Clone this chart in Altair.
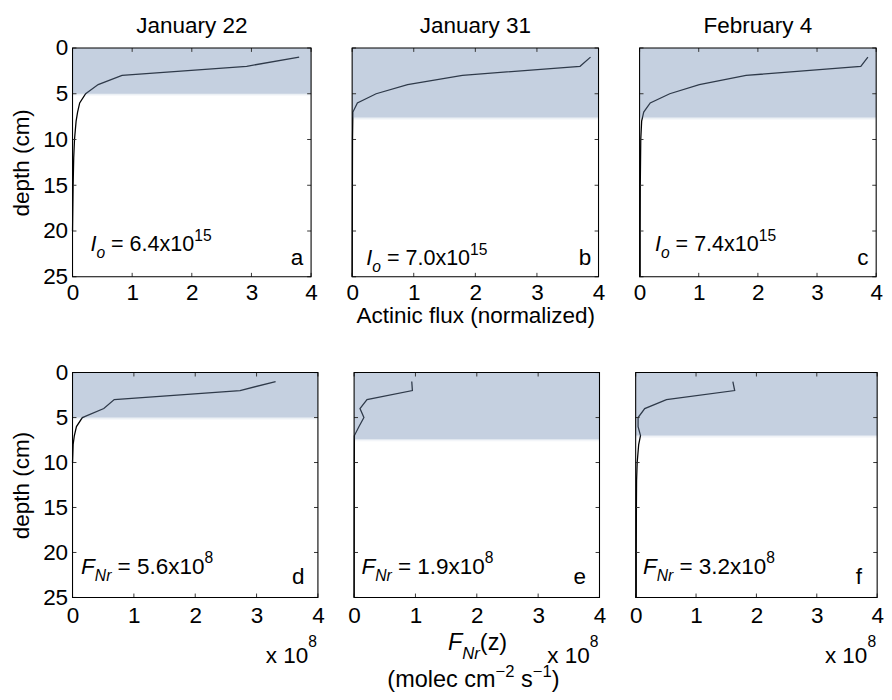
import altair as alt
import pandas as pd

FONT = "Liberation Sans"

# ---------------- data ----------------
DATES = ["January 22", "January 31", "February 4"]
LETTERS = ["a", "b", "c", "d", "e", "f"]
IO_VALUES = ["6.4", "7.0", "7.4"]
FNR_VALUES = ["5.6", "1.9", "3.2"]
IO_EXP = "15"
FNR_EXP = "8"

A_DEPTH = [1, 2, 3, 4, 5, 6, 7, 8, 10, 12, 15, 20]
A_FLUX = [3.80, 2.92, 0.83, 0.43, 0.22, 0.12, 0.085, 0.06, 0.033, 0.02, 0.01, 0.0]
B_DEPTH = [1, 2, 3, 4, 5, 6, 7, 10, 15, 20, 25]
B_FLUX = [3.87, 3.70, 1.79, 0.90, 0.39, 0.085, 0.012, 0.006, 0.004, 0.002, 0.0]
C_DEPTH = [1, 2, 3, 4, 5, 6, 7, 8, 10, 15, 20, 25]
C_FLUX = [3.86, 3.74, 1.80, 1.01, 0.51, 0.18, 0.07, 0.035, 0.02, 0.012, 0.01, 0.01]
D_DEPTH = [1, 2, 3, 4, 5, 6, 7, 8, 10]
D_FNR = [3.31, 2.73, 0.68, 0.51, 0.16, 0.064, 0.03, 0.01, 0.0]
E_DEPTH = [1, 2, 3, 4, 5, 6, 7, 10, 15, 20, 25]
E_FNR = [0.94, 0.95, 0.21, 0.096, 0.16, 0.08, 0.005, 0.003, 0.002, 0.001, 0.0]
F_DEPTH = [1, 2, 3, 4, 5, 6, 7, 8, 10, 12, 15, 20, 25]
F_FNR = [1.61, 1.64, 0.51, 0.15, 0.04, 0.04, 0.08, 0.05, 0.025, 0.015, 0.012, 0.01, 0.01]
SHADE_DEPTH = [5.0, 7.6, 7.6, 5.0, 7.4, 7.0]

X_TICKS = [0, 1, 2, 3, 4]
Y_TICKS = [0, 5, 10, 15, 20, 25]

# ---------------- layout / style ----------------
WIDTHS = [244, 252, 242, 251, 251, 247]
HEIGHTS = [234, 234, 234, 230, 230, 230]
ANN_POS = [(0.30, 22.2), (0.23, 23.7), (0.26, 22.2), (0.14, 22.4), (0.12, 22.4), (0.12, 22.4)]
LET_POS = [(3.87, 23.7), (3.88, 23.7), (3.87, 23.7), (3.78, 23.5), (3.78, 23.5), (3.75, 23.5)]
FS = 23          # tick labels, axis titles, column titles
FS_ANN_TOP = 22
FS_ANN_BOT = 23
FS_SUB = 16
FS_LOW = 24      # F_Nr(z) and units
SHADE_COLOR = "#738db4"
SHADE_OPACITY = 0.41
TICK_LEN = 4

CW = {' ': 278, '(': 333, ')': 333, '-': 333, '.': 278, '=': 584, 'a': 556, 'b': 556,
      'c': 500, 'd': 556, 'e': 556, 'f': 278, 'i': 222, 'l': 222, 'm': 833, 'n': 556,
      'o': 556, 'r': 333, 's': 500, 't': 278, 'u': 556, 'x': 500, 'z': 500, 'F': 611,
      'N': 722, 'I': 278, '\u2212': 584}


def tw(s, size):
    return sum(CW.get(c, 556) for c in s) / 1000.0 * size


XS = alt.Scale(domain=[X_TICKS[0], X_TICKS[-1]], nice=False, zero=False)
YS = alt.Scale(domain=[Y_TICKS[0], Y_TICKS[-1]], nice=False, zero=False, reverse=True)


def rich_text(segments, base_df, xenc, yenc):
    """segments: list of (text, size, italic, dy); leading spaces become offsets."""
    layers = []
    off = 0.0
    for text, size, italic, dy in segments:
        stripped = text.lstrip(" ")
        off += tw(text[: len(text) - len(stripped)], size)
        kw = dict(text=stripped, fontSize=size, font=FONT, color="black", align="left",
                  baseline="alphabetic", dx=round(off, 2), dy=dy)
        if italic:
            kw["fontStyle"] = "italic"
        layers.append(alt.Chart(base_df).mark_text(**kw).encode(x=xenc, y=yenc))
        off += tw(stripped, size)
    return layers


def panel(i, depth, vals, xaxis_title=None, title=None, lower_extra=False):
    w, h = WIDTHS[i], HEIGHTS[i]
    top = i < 3
    show_y = i in (0, 3)
    df = pd.DataFrame({"v": vals, "d": depth})
    xkw = dict(values=X_TICKS, ticks=False, domain=False, grid=False,
               labelFontSize=FS, labelFont=FONT, labelColor="black",
               labelPadding=5 if top else 8, labelFlush=False)
    if xaxis_title:
        xkw.update(title=xaxis_title, titleFont=FONT, titleFontSize=FS,
                   titleFontWeight="normal", titleColor="black", titlePadding=1)
    else:
        xkw.update(title=None)
    xaxis = alt.Axis(**xkw)
    if show_y:
        yaxis = alt.Axis(values=Y_TICKS, ticks=False, domain=False, grid=False,
                         labelFontSize=FS, labelFont=FONT, labelColor="black",
                         labelPadding=5, labelFlush=False, title="depth (cm)",
                         titleFont=FONT, titleFontSize=FS, titleFontWeight="normal",
                         titleColor="black", titlePadding=9)
    else:
        yaxis = None

    def X(f):
        return alt.X(f, scale=XS, axis=xaxis)

    def Y(f):
        return alt.Y(f, scale=YS, axis=yaxis)

    line = alt.Chart(df).mark_line(color="black", strokeWidth=1.3).encode(
        x=X("v:Q"), y=Y("d:Q"), order="d:Q")
    sd = SHADE_DEPTH[i]
    shade_df = pd.DataFrame({"x0": [X_TICKS[0]], "x1": [X_TICKS[-1]], "d0": [0.0], "d1": [sd]})
    shade = alt.Chart(shade_df).mark_rect(color=SHADE_COLOR, opacity=SHADE_OPACITY).encode(
        x=X("x0:Q"), x2="x1", y=Y("d0:Q"), y2="d1")
    fade_df = pd.DataFrame({"x0": [X_TICKS[0]] * 2, "x1": [X_TICKS[-1]] * 2,
                            "d0": [sd, sd + 0.12], "d1": [sd + 0.12, sd + 0.26],
                            "op": [0.16, 0.06]})
    fade = alt.Chart(fade_df).mark_rect(color=SHADE_COLOR).encode(
        x=X("x0:Q"), x2="x1", y=Y("d0:Q"), y2="d1",
        opacity=alt.Opacity("op:Q", scale=None, legend=None))
    frame_df = pd.DataFrame({"x0": [X_TICKS[0]], "x1": [X_TICKS[-1]],
                             "d0": [Y_TICKS[0]], "d1": [Y_TICKS[-1]]})
    frame = alt.Chart(frame_df).mark_rect(fillOpacity=0, stroke="black", strokeWidth=1.1).encode(
        x=X("x0:Q"), x2="x1", y=Y("d0:Q"), y2="d1")
    yt = pd.DataFrame({"t": Y_TICKS})
    xt = pd.DataFrame({"t": X_TICKS})
    tick_style = dict(color="#333333", strokeWidth=1)
    tl = alt.Chart(yt).mark_rule(**tick_style).encode(
        y=Y("t:Q"), x=alt.value(0), x2=alt.value(TICK_LEN))
    tr = alt.Chart(yt).mark_rule(**tick_style).encode(
        y=Y("t:Q"), x=alt.value(w - TICK_LEN), x2=alt.value(w))
    tt = alt.Chart(xt).mark_rule(**tick_style).encode(
        x=X("t:Q"), y=alt.value(0), y2=alt.value(TICK_LEN))
    tb = alt.Chart(xt).mark_rule(**tick_style).encode(
        x=X("t:Q"), y=alt.value(h - TICK_LEN), y2=alt.value(h))

    ax, ay = ANN_POS[i]
    adf = pd.DataFrame({"x": [ax], "y": [ay]})
    if top:
        fa = FS_ANN_TOP
        segs = [("I", fa, True, 0), ("o", FS_SUB, True, 7),
                (" = " + IO_VALUES[i] + "x10", fa, False, 0), (IO_EXP, FS_SUB, False, -10)]
    else:
        fa = FS_ANN_BOT
        segs = [("F", fa, True, 0), ("Nr", FS_SUB, True, 7),
                (" = " + FNR_VALUES[i - 3] + "x10", fa, False, 0), (FNR_EXP, FS_SUB, False, -11)]
    ann = rich_text(segs, adf, X("x:Q"), Y("y:Q"))

    lx, ly = LET_POS[i]
    ldf = pd.DataFrame({"x": [lx], "y": [ly], "t": [LETTERS[i]]})
    letter = alt.Chart(ldf).mark_text(fontSize=FS, font=FONT, color="black", align="right",
                                      baseline="alphabetic").encode(
        x=X("x:Q"), y=Y("y:Q"), text="t:N")

    layers = [line, shade, fade, tl, tr, tt, tb, frame] + ann + [letter]

    one = pd.DataFrame({"k": [0]})
    if title:
        layers.append(alt.Chart(one).mark_text(text=title, fontSize=FS, font=FONT, color="black",
                                               align="center", baseline="alphabetic").encode(
            x=alt.value(w / 2), y=alt.value(-15)))

    if not top:
        layers.append(alt.Chart(one).mark_text(text=FNR_EXP, fontSize=FS_SUB, font=FONT,
                                               color="black", align="right", baseline="alphabetic").encode(
            x=alt.value(w - 1), y=alt.value(h + 51)))
        layers.append(alt.Chart(one).mark_text(text="x 10", fontSize=FS, font=FONT,
                                               color="black", align="right", baseline="alphabetic").encode(
            x=alt.value(w - 10), y=alt.value(h + 67)))
        if lower_extra:
            segs2 = [("F", FS_LOW, True, 0), ("Nr", 17, True, 9), ("(z)", FS_LOW, False, 0)]
            layers += rich_text(segs2, one, alt.value(96), alt.value(h + 54))
            segs3 = [("(molec cm", FS_LOW, False, 0), ("\u22122", 17, False, -11),
                     (" s", FS_LOW, False, 0), ("\u22121", 17, False, -11), (")", FS_LOW, False, 0)]
            layers += rich_text(segs3, one, alt.value(34), alt.value(h + 92))

    return alt.layer(*layers).properties(width=w, height=h)


pa = panel(0, A_DEPTH, A_FLUX, title=DATES[0])
pb = panel(1, B_DEPTH, B_FLUX, xaxis_title="Actinic flux (normalized)", title=DATES[1])
pc = panel(2, C_DEPTH, C_FLUX, title=DATES[2])
pd_ = panel(3, D_DEPTH, D_FNR)
pe = panel(4, E_DEPTH, E_FNR, lower_extra=True)
pf = panel(5, F_DEPTH, F_FNR)

row1 = alt.hconcat(pa, pb, pc, spacing=28)
row2 = alt.hconcat(pd_, pe, pf, spacing=23)

chart = alt.vconcat(row1, row2, spacing=35).properties(
    padding={"left": 3, "top": 0, "right": 0, "bottom": 0}
).configure_view(strokeWidth=0)

chart.save("out.html", embed_options={"renderer": "svg", "actions": False})
